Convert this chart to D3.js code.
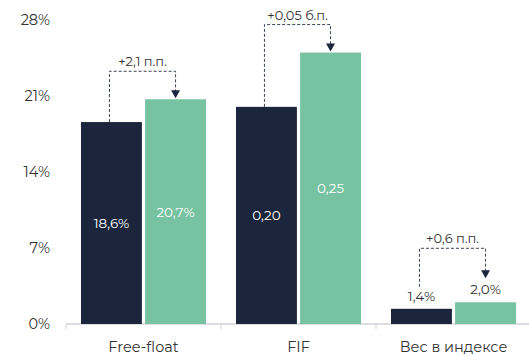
<!DOCTYPE html>
<html>
<head>
<meta charset="utf-8">
<script src="https://cdnjs.cloudflare.com/ajax/libs/d3/7.8.5/d3.min.js"></script>
<style>
  body { margin: 0; background: #fff; }
  svg { display: block; font-family: "Montserrat", "Inter", "Open Sans", sans-serif; }
</style>
</head>
<body>
<div id="box"></div>
<script>
// chart data
var categories = ["Free-float", "FIF", "Вес в индексе"];
var before = [18.6, 20, 1.4];
var after = [20.7, 25, 2.0];
var beforeLabels = ["18,6%", "0,20", "1,4%"];
var afterLabels = ["20,7%", "0,25", "2,0%"];
var deltaLabels = ["+2,1 п.п.", "+0,05 б.п.", "+0,6 п.п."];
var yTicks = [0, 7, 14, 21, 28];

var width = 529, height = 356;
var margin = { top: 20, right: 0, bottom: 32, left: 66 };

var navy = "#1b253b";
var green = "#76c2a1";

var svg = d3.select("#box")
    .append("svg")
    .attr("width", width)
    .attr("height", height);

var x = d3.scaleBand()
    .domain(categories)
    .range([margin.left, margin.left + 155 * 3])
    .paddingInner(0)
    .paddingOuter(0);

var inner = d3.scaleBand()
    .domain(["before", "after"])
    .range([15, x.bandwidth() - 15])
    .paddingInner(0.05);

var y = d3.scaleLinear()
    .domain([0, 28])
    .range([height - margin.bottom, margin.top]);

// y tick labels (no axis line)
svg.append("g")
    .selectAll("text")
    .data(yTicks)
    .enter()
    .append("text")
    .attr("x", 50)
    .attr("y", function(d) { return y(d); })
    .attr("dy", "0.35em")
    .attr("text-anchor", "end")
    .attr("font-size", 14.5)
    .attr("fill", "#333")
    .text(function(d) { return d + "%"; });

// x axis
var xAxis = svg.append("g")
    .attr("transform", "translate(0," + y(0) + ")");

xAxis.append("line")
    .attr("x1", margin.left)
    .attr("x2", width)
    .attr("stroke", "#cfd2d6")
    .attr("stroke-width", 1.5);

var tickXs = categories.map(function(c) { return x(c); }).concat([x(categories[2]) + x.bandwidth()]);
xAxis.selectAll(".tick")
    .data(tickXs)
    .enter()
    .append("line")
    .attr("x1", function(d) { return d; })
    .attr("x2", function(d) { return d; })
    .attr("y1", 0)
    .attr("y2", 5)
    .attr("stroke", "#cfd2d6")
    .attr("stroke-width", 1);

xAxis.selectAll(".cat")
    .data(categories)
    .enter()
    .append("text")
    .attr("x", function(d) { return x(d) + x.bandwidth() / 2; })
    .attr("y", 28)
    .attr("text-anchor", "middle")
    .attr("font-size", 14.5)
    .attr("fill", "#333")
    .text(function(d) { return d; });

// bars
var groups = categories.map(function(c, i) {
    return { cat: c, i: i, values: [
        { key: "before", value: before[i], label: beforeLabels[i], color: navy },
        { key: "after", value: after[i], label: afterLabels[i], color: green }
    ] };
});

var g = svg.selectAll(".group")
    .data(groups)
    .enter()
    .append("g")
    .attr("class", "group")
    .attr("transform", function(d) { return "translate(" + x(d.cat) + ",0)"; });

g.selectAll("rect")
    .data(function(d) { return d.values; })
    .enter()
    .append("rect")
    .attr("x", function(d) { return inner(d.key); })
    .attr("y", function(d) { return y(d.value); })
    .attr("width", inner.bandwidth())
    .attr("height", function(d) { return y(0) - y(d.value); })
    .attr("fill", function(d) { return d.color; });

// value labels: inside (middle) if tall enough, otherwise above
function isSmall(v) { return y(0) - y(v) < 30; }

g.selectAll(".val")
    .data(function(d) { return d.values; })
    .enter()
    .append("text")
    .attr("class", "val")
    .attr("x", function(d) { return inner(d.key) + inner.bandwidth() / 2; })
    .attr("y", function(d) {
        if (isSmall(d.value)) return y(d.value) - 8;
        return (y(d.value) + y(0)) / 2 + 5;
    })
    .attr("text-anchor", "middle")
    .attr("font-size", 13.5)
    .attr("fill", function(d) { return isSmall(d.value) ? "#333" : "#ffffff"; })
    .text(function(d) { return d.label; });

// difference brackets
groups.forEach(function(d) {
    var small = isSmall(d.values[1].value);
    var x1 = x(d.cat) + inner("before") + inner.bandwidth() / 2 - 2;
    var x2 = x(d.cat) + inner("after") + inner.bandwidth() / 2;
    var yStart = small ? y(d.values[0].value) - 22 : y(d.values[0].value);
    var yTip = small ? y(d.values[1].value) - 24 : y(d.values[1].value) - 1;
    var yTop = small ? y(d.values[1].value) - 54 : y(d.values[1].value) - 28;

    svg.append("path")
        .attr("d", "M" + x1 + "," + yStart + "V" + yTop + "H" + x2 + "V" + (yTip - 7))
        .attr("fill", "none")
        .attr("stroke", "#3a4254")
        .attr("stroke-width", 1)
        .attr("stroke-dasharray", "3,2");

    svg.append("path")
        .attr("d", "M" + (x2 - 4.5) + "," + (yTip - 8) + "L" + (x2 + 4.5) + "," + (yTip - 8) + "L" + x2 + "," + yTip + "Z")
        .attr("fill", navy);

    svg.append("text")
        .attr("x", (x1 + x2) / 2)
        .attr("y", yTop - 5)
        .attr("text-anchor", "middle")
        .attr("font-size", 13)
        .attr("fill", "#333")
        .text(deltaLabels[d.i]);
});
</script>
</body>
</html>
